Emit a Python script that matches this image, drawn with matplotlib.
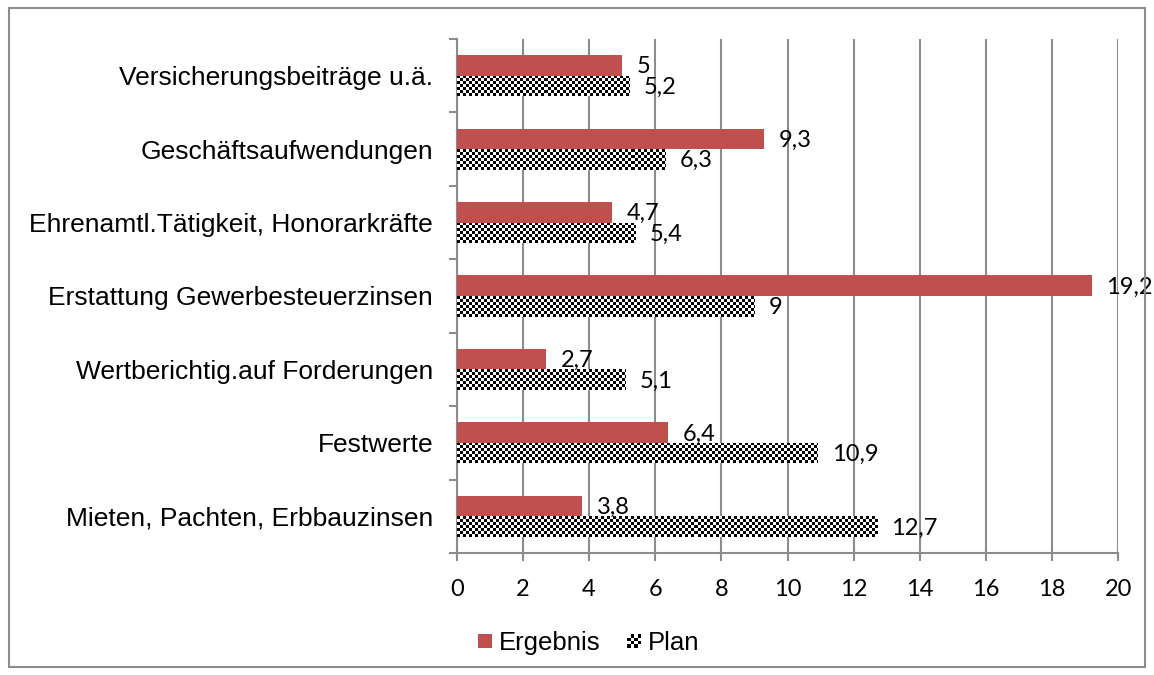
import numpy as np
import matplotlib
matplotlib.use("Agg")
import matplotlib.pyplot as plt
from matplotlib.patches import Rectangle
from matplotlib.legend_handler import HandlerBase

categories = ["Mieten, Pachten, Erbbauzinsen", "Festwerte", "Wertberichtig.auf Forderungen",
              "Erstattung Gewerbesteuerzinsen", "Ehrenamtl.Tätigkeit, Honorarkräfte",
              "Geschäftsaufwendungen", "Versicherungsbeiträge u.ä."]
ergebnis = [3.8, 6.4, 2.7, 19.2, 4.7, 9.3, 5.0]
plan = [12.7, 10.9, 5.1, 9.0, 5.4, 6.3, 5.2]
series_names = ["Ergebnis", "Plan"]
xticks = [0, 2, 4, 6, 8, 10, 12, 14, 16, 18, 20]

RED = "#C0504D"
GRID = "#8C8C8C"
W, H = 1154, 675
fig = plt.figure(figsize=(W / 100, H / 100), dpi=100)
ax = fig.add_axes([456.7 / W, 1 - 553 / H, (1118.3 - 456.7) / W, (553 - 39) / H])

# outer frame
fig.patches.append(Rectangle((9 / W, 8 / H), (1145 - 9) / W, (667 - 8) / H, transform=fig.transFigure,
                             fill=False, edgecolor="#8C8C8C", linewidth=1.5))

y = np.arange(len(categories))
h = 0.28
ax.set_xlim(0, 20)
ax.set_ylim(-0.5, len(categories) - 0.5)

bars_e = ax.barh(y + h / 2, ergebnis, height=h, color=RED, zorder=3)
bars_p = ax.barh(y - h / 2, plan, height=h, facecolor="none", edgecolor="none", zorder=3)

# checkerboard fill for plan bars
fig.canvas.draw()
pxx = ax.bbox.width / 20.0
pxy = ax.bbox.height / len(categories)
cell = 3.0
for b in bars_p:
    x0, y0, bw, bh = b.get_x(), b.get_y(), b.get_width(), b.get_height()
    nx = int(np.ceil(bw * pxx / cell))
    ny = int(np.ceil(bh * pxy / cell))
    ii, jj = np.indices((ny, nx))
    arr = ((ii + jj) % 2).astype(float)
    im = ax.imshow(arr, cmap="gray", vmin=0, vmax=1, interpolation="nearest", aspect="auto",
                   extent=(x0, x0 + nx * cell / pxx, y0 + bh, y0 + bh - ny * cell / pxy), zorder=3)
    im.set_clip_path(b)
ax.set_xlim(0, 20)
ax.set_ylim(-0.5, len(categories) - 0.5)
ax.set_aspect("auto")

def fmt(v):
    s = ("%g" % v).replace(".", ",")
    return s

for b, v in zip(bars_e, ergebnis):
    ax.annotate(fmt(v), (b.get_x() + b.get_width(), b.get_y() + b.get_height() / 2),
                xytext=(10.5, -1), textcoords="offset points", va="center", ha="left",
                fontsize=17, family="Lato", zorder=5)
for b, v in zip(bars_p, plan):
    ax.annotate(fmt(v), (b.get_x() + b.get_width(), b.get_y() + b.get_height() / 2),
                xytext=(10.5, -1), textcoords="offset points", va="center", ha="left",
                fontsize=17, family="Lato", zorder=5)

# axes styling
for s in ["top", "right"]:
    ax.spines[s].set_visible(False)
for s in ["left", "bottom"]:
    ax.spines[s].set_color(GRID)
    ax.spines[s].set_linewidth(1.5)
ax.set_xticks(xticks)
ax.set_xticklabels([str(t) for t in xticks], fontsize=17, family="Lato")
ax.tick_params(axis="x", direction="out", length=6, width=1.5, color=GRID, pad=13)
ax.grid(axis="x", color=GRID, linewidth=1.5, zorder=0)
ax.set_axisbelow(True)

ax.set_yticks(np.arange(len(categories) + 1) - 0.5)
ax.set_yticklabels([])
ax.tick_params(axis="y", which="major", direction="out", length=6, width=1.5, color=GRID)
ax.set_yticks(y, minor=True)
ax.set_yticklabels(categories, minor=True, fontsize=19, family="Liberation Sans")
ax.tick_params(axis="y", which="minor", length=0, pad=17)

class CheckerHandler(HandlerBase):
    def create_artists(self, legend, orig_handle, xdescent, ydescent, width, height, fontsize, trans):
        size = 10.0
        n = 4
        c = size / n
        x0 = -xdescent + (width - size) / 2
        y0 = -ydescent + (height - size) / 2
        arts = []
        for i in range(n):
            for j in range(n):
                if (i + j) % 2 == 0:
                    arts.append(Rectangle((x0 + i * c, y0 + j * c), c, c, facecolor="black",
                                          edgecolor="none", transform=trans))
        return arts

class SquareHandler(HandlerBase):
    def create_artists(self, legend, orig_handle, xdescent, ydescent, width, height, fontsize, trans):
        size = 10.5
        x0 = -xdescent + (width - size) / 2
        y0 = -ydescent + (height - size) / 2
        return [Rectangle((x0, y0), size, size, facecolor=RED, edgecolor="none", transform=trans)]

leg = fig.legend([bars_e, bars_p], series_names, loc="center", bbox_to_anchor=(588.5 / W, 1 - 643 / H),
                 ncol=2, frameon=False, prop={"family": "Liberation Sans", "size": 18.5},
                 handler_map={bars_e: SquareHandler(), bars_p: CheckerHandler()},
                 handlelength=0.6, handletextpad=0.25, columnspacing=1.0)

fig.savefig("out.png", dpi=100)
